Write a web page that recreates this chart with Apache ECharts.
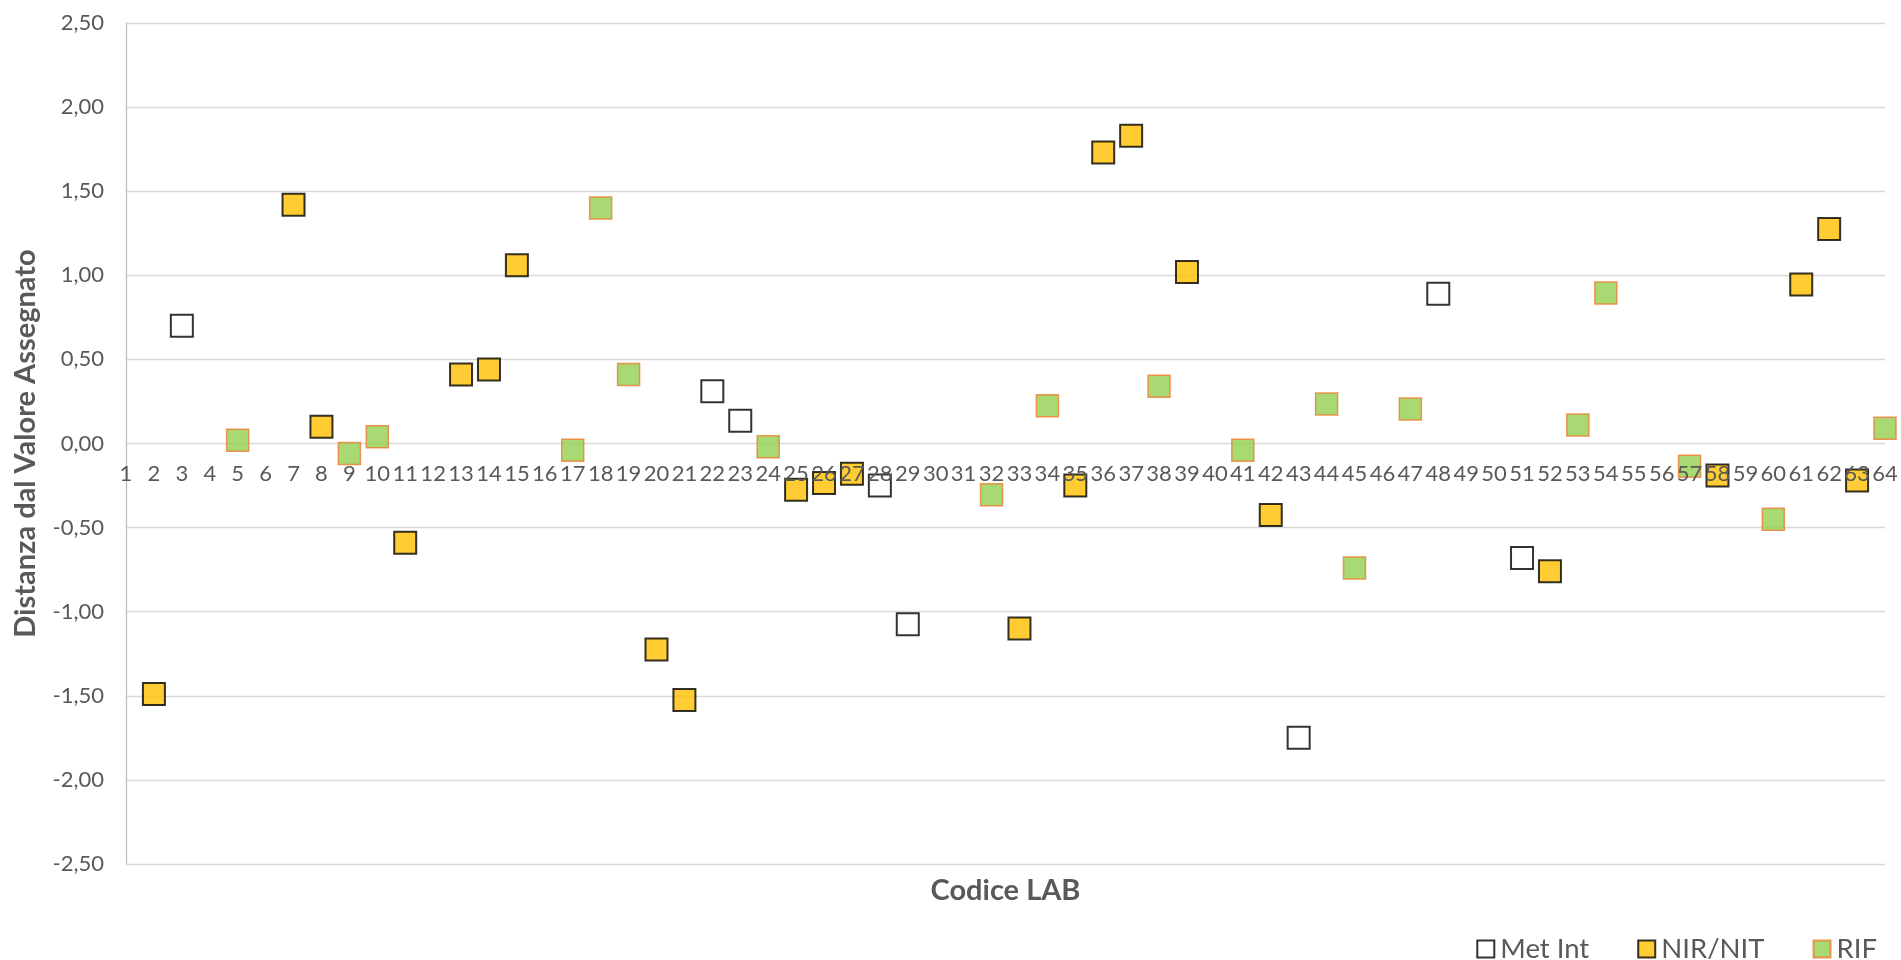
<!DOCTYPE html>
<html>
<head>
<meta charset="utf-8">
<script src="https://cdn.jsdelivr.net/npm/echarts@6/dist/echarts.min.js"></script>
<style>
html,body{margin:0;padding:0;background:#fff;}
#chart{width:1901px;height:960px;}
</style>
</head>
<body>
<div id="chart"></div>
<script>
// Codice LAB tick range
const xTickMin = 1;
const xTickMax = 64;
const yTickMin = -2.5;
const yTickMax = 2.5;

// Met Int
const metIntX = [3, 22, 23, 28, 29, 43, 48, 51];
const metIntY = [0.70, 0.31, 0.135, -0.25, -1.075, -1.75, 0.89, -0.68];

// NIR/NIT
const nirX = [2, 7, 8, 11, 13, 14, 15, 20, 21, 25, 26, 27, 33, 35, 36, 37, 39, 42, 52, 58, 61, 62, 63];
const nirY = [-1.49, 1.42, 0.10, -0.59, 0.41, 0.44, 1.06, -1.225, -1.525, -0.275, -0.235, -0.18, -1.10, -0.25, 1.73, 1.83, 1.02, -0.425, -0.76, -0.19, 0.945, 1.275, -0.22];

// RIF
const rifX = [5, 9, 10, 17, 18, 19, 24, 32, 34, 38, 41, 44, 45, 47, 53, 54, 57, 60, 64];
const rifY = [0.02, -0.06, 0.04, -0.04, 1.40, 0.41, -0.02, -0.305, 0.225, 0.34, -0.04, 0.235, -0.74, 0.205, 0.11, 0.895, -0.135, -0.45, 0.09];

const seriesNames = ['Met Int', 'NIR/NIT', 'RIF'];

function pairs(xs, ys) { return xs.map((x, i) => [x, ys[i]]); }

const FONT = 'Lato';
const GRAY = '#595959';

const chart = echarts.init(document.getElementById('chart'), null, {renderer: 'canvas'});
chart.setOption({
  animation: false,
  backgroundColor: '#ffffff',
  grid: {left: 126, right: 16, top: 23, bottom: 96, containLabel: false, outerBoundsMode: 'none'},
  legend: {
    data: seriesNames,
    right: 19,
    top: 930,
    icon: 'rect',
    itemWidth: 17,
    itemHeight: 17,
    itemGap: 48,
    textStyle: {fontFamily: FONT, fontSize: 27.5, color: GRAY, padding: [0, 0, 0, 1]}
  },
  xAxis: {
    type: 'value',
    position: 'bottom',
    min: xTickMin,
    max: xTickMax,
    interval: 1,
    z: 5,
    offset: 0,
    name: 'Codice LAB',
    nameLocation: 'middle',
    nameGap: 433,
    nameTextStyle: {fontFamily: FONT, fontSize: 29, fontWeight: 'bold', color: GRAY},
    axisLine: {show: false, onZero: false},
    axisTick: {show: false},
    splitLine: {show: false},
    axisLabel: {
      show: true,
      interval: 0,
      hideOverlap: false,
      margin: 19,
      fontFamily: FONT,
      fontSize: 22,
      color: GRAY,
      formatter: v => String(Math.round(v))
    }
  },
  yAxis: {
    type: 'value',
    min: yTickMin,
    max: yTickMax,
    interval: 0.5,
    name: 'Distanza dal Valore Assegnato',
    nameLocation: 'middle',
    nameRotate: 90,
    nameGap: 86,
    nameTextStyle: {fontFamily: FONT, fontSize: 29, fontWeight: 'bold', color: GRAY},
    axisLine: {show: true, onZero: false, lineStyle: {color: '#bfbfbf', width: 1.3}},
    axisTick: {show: false},
    splitLine: {show: true, lineStyle: {color: '#d9d9d9', width: 1.3}},
    axisLabel: {
      margin: 22,
      fontFamily: FONT,
      fontSize: 22,
      color: GRAY,
      formatter: v => v.toFixed(2).replace('.', ',')
    }
  },
  series: [
    {
      name: seriesNames[0],
      type: 'scatter',
      symbol: 'rect',
      symbolSize: 22,
      clip: false,
      itemStyle: {color: '#ffffff', borderColor: '#000000', borderWidth: 2},
      data: pairs(metIntX, metIntY)
    },
    {
      name: seriesNames[1],
      type: 'scatter',
      symbol: 'rect',
      symbolSize: 22,
      clip: false,
      itemStyle: {color: '#FFC000', borderColor: '#000000', borderWidth: 2},
      data: pairs(nirX, nirY)
    },
    {
      name: seriesNames[2],
      type: 'scatter',
      symbol: 'rect',
      symbolSize: 22,
      clip: false,
      itemStyle: {color: '#92D050', borderColor: '#ED7D31', borderWidth: 1.5},
      data: pairs(rifX, rifY)
    }
  ]
});

// Place the category axis on the zero line of the value axis (Excel "axis crosses at 0")
const zeroPx = chart.convertToPixel({yAxisIndex: 0}, 0);
const bottomPx = chart.convertToPixel({yAxisIndex: 0}, yTickMin);
chart.setOption({xAxis: {offset: zeroPx - bottomPx}});
</script>
</body>
</html>
